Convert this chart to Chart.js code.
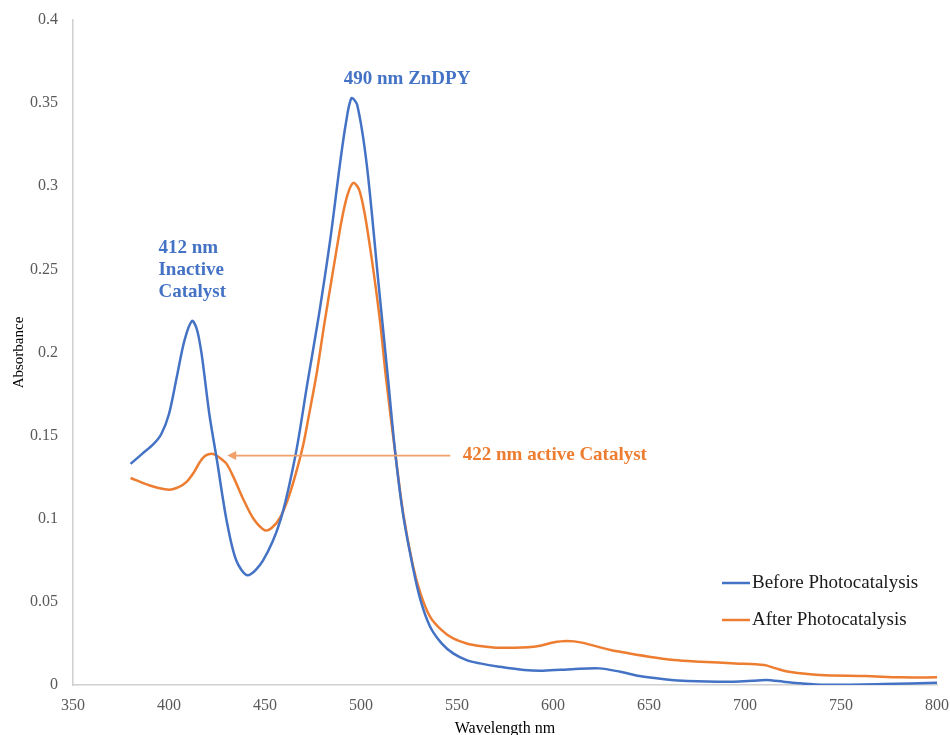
<!DOCTYPE html>
<html lang="en">
<head>
<meta charset="utf-8">
<style>
  html, body { margin: 0; padding: 0; background: #fff; }
  #wrap { width: 950px; height: 735px; }
</style>
</head>
<body>
<div id="wrap">
    <canvas id="myChart" width="950" height="735"></canvas>
</div>

<script src="https://cdn.jsdelivr.net/npm/chart.js"></script>
<script>
    // wavelength (nm) / absorbance
    const beforeWl = [380, 386, 392, 396, 400, 404, 408, 412, 414.5, 417, 421, 425, 430, 435, 441, 449, 458, 466, 472, 478, 484,
        489, 492, 495, 498, 503, 509, 514, 518, 522, 527, 531, 536, 542, 548, 555, 562, 572, 585, 595, 610,
        624, 635, 645, 658, 670, 694, 704, 711, 720, 729, 742, 772, 800];
    const beforeAbs = [0.133, 0.139, 0.145, 0.151, 0.163, 0.185, 0.207, 0.219, 0.214, 0.199, 0.163, 0.135, 0.099, 0.075, 0.066, 0.075, 0.099, 0.139, 0.181, 0.222, 0.268,
        0.313, 0.337, 0.353, 0.349, 0.313, 0.243, 0.185, 0.138, 0.102, 0.071, 0.051, 0.035, 0.025, 0.019, 0.015, 0.013, 0.011, 0.009, 0.0086, 0.0095,
        0.010, 0.008, 0.0054, 0.0035, 0.0024, 0.002, 0.0025, 0.003, 0.002, 0.001, 0.0002, 0.0006, 0.0014];

    const afterWl = [380, 390, 400, 405, 409, 413, 416, 419, 423, 426, 430, 434, 439, 444, 450, 454, 458, 462, 466, 470,
        473, 477, 481, 486, 490, 493, 496, 499, 502, 506, 510, 513, 518, 522, 527, 531, 536, 542, 548, 555,
        562, 572, 590, 600, 607, 615, 630, 650, 663, 677, 695, 710, 716, 723, 739, 763, 781, 800];
    const afterAbs = [0.1245, 0.120, 0.1175, 0.119, 0.122, 0.128, 0.134, 0.138, 0.139, 0.137, 0.133, 0.124, 0.111, 0.100, 0.093, 0.095, 0.101, 0.112, 0.127, 0.145,
        0.163, 0.188, 0.218, 0.253, 0.280, 0.295, 0.302, 0.298, 0.283, 0.253, 0.218, 0.185, 0.138, 0.103, 0.072, 0.055, 0.041, 0.033, 0.028, 0.025,
        0.0235, 0.0224, 0.023, 0.0255, 0.0264, 0.0255, 0.021, 0.017, 0.015, 0.014, 0.013, 0.012, 0.010, 0.008, 0.006, 0.0054, 0.0046, 0.0046];

    const seriesNames = ['Before Photocatalysis', 'After Photocatalysis'];
    const xTicks = [350, 400, 450, 500, 550, 600, 650, 700, 750, 800];
    const yTicks = [0, 0.05, 0.1, 0.15, 0.2, 0.25, 0.3, 0.35, 0.4];

    const BLUE = '#4472C4';
    const ORANGE = '#ED7D31';
    const SERIF = '"Liberation Serif", "Times New Roman", serif';

    const toPoints = (xs, ys) => xs.map((x, i) => ({x: x, y: ys[i]}));

    // peak labels, arrow and the in-plot legend
    const notes = {
        id: 'notes',
        afterDatasetsDraw(chart) {
            const c = chart.ctx;
            const sx = chart.scales.x, sy = chart.scales.y;
            c.save();
            c.textBaseline = 'middle';

            c.fillStyle = BLUE;
            c.font = 'bold 19px ' + SERIF;
            c.textAlign = 'center';
            c.fillText('490 nm ZnDPY', sx.getPixelForValue(524), sy.getPixelForValue(0.3646));
            c.textAlign = 'left';
            ['412 nm', 'Inactive', 'Catalyst'].forEach((t, i) => {
                c.fillText(t, sx.getPixelForValue(394.5), sy.getPixelForValue(0.263) + i * 22);
            });

            // arrow pointing at the 422 nm shoulder
            const ay = sy.getPixelForValue(0.138);
            const x0 = sx.getPixelForValue(546.5), x1 = sx.getPixelForValue(430.3);
            c.strokeStyle = '#F2A06A';
            c.fillStyle = '#F2A06A';
            c.lineWidth = 1.6;
            c.beginPath();
            c.moveTo(x0, ay);
            c.lineTo(x1 + 6, ay);
            c.stroke();
            c.beginPath();
            c.moveTo(x1, ay);
            c.lineTo(x1 + 9, ay - 4.5);
            c.lineTo(x1 + 9, ay + 4.5);
            c.closePath();
            c.fill();

            c.fillStyle = ORANGE;
            c.font = 'bold 19px ' + SERIF;
            c.fillText('422 nm active Catalyst', sx.getPixelForValue(553), ay);

            // legend
            c.font = '19px ' + SERIF;
            chart.data.datasets.forEach((ds, i) => {
                const ly = 583 + i * 37;
                c.strokeStyle = ds.borderColor;
                c.lineWidth = 2.5;
                c.beginPath();
                c.moveTo(722, ly);
                c.lineTo(750, ly);
                c.stroke();
                c.fillStyle = '#1a1a1a';
                c.fillText(ds.label, 752, ly);
            });
            c.restore();
        }
    };

    const ctx = document.getElementById('myChart');

    new Chart(ctx, {
        type: 'line',
        data: {
            datasets: [{
                label: seriesNames[0],
                data: toPoints(beforeWl, beforeAbs),
                borderColor: BLUE,
                borderWidth: 2.5,
                pointRadius: 0,
                tension: 0.3
            }, {
                label: seriesNames[1],
                data: toPoints(afterWl, afterAbs),
                borderColor: ORANGE,
                borderWidth: 2.5,
                pointRadius: 0,
                tension: 0.3
            }]
        },
        options: {
            responsive: false,
            animation: false,
            layout: {padding: {top: 20, right: 13, left: 0, bottom: 0}},
            plugins: {
                legend: {display: false},
                tooltip: {enabled: false}
            },
            scales: {
                x: {
                    type: 'linear',
                    min: xTicks[0],
                    max: xTicks[xTicks.length - 1],
                    afterBuildTicks: s => { s.ticks = xTicks.map(v => ({value: v})); },
                    afterFit: s => { s.height = 50; s.paddingLeft = 0; s.paddingRight = 0; },
                    grid: {display: false, drawTicks: false},
                    border: {display: true, color: '#d0d0d0', width: 1.5},
                    ticks: {
                        color: '#595959',
                        font: {family: SERIF, size: 16},
                        padding: 11,
                        maxRotation: 0,
                        callback: v => String(v)
                    },
                    title: {
                        display: true,
                        text: 'Wavelength nm',
                        color: '#000',
                        font: {family: SERIF, size: 16},
                        padding: {top: 0, bottom: -3}
                    }
                },
                y: {
                    min: yTicks[0],
                    max: yTicks[yTicks.length - 1],
                    afterBuildTicks: s => { s.ticks = yTicks.map(v => ({value: v})); },
                    afterFit: s => { s.width = 73; s.paddingTop = 0; s.paddingBottom = 0; },
                    grid: {display: false, drawTicks: false},
                    border: {display: true, color: '#d0d0d0', width: 1.5},
                    ticks: {
                        color: '#595959',
                        font: {family: SERIF, size: 16},
                        padding: 15,
                        callback: v => String(+v.toFixed(2))
                    },
                    title: {
                        display: true,
                        text: 'Absorbance',
                        color: '#000',
                        font: {family: SERIF, size: 15},
                        padding: {top: 10, bottom: 0}
                    }
                }
            }
        },
        plugins: [notes]
    });
</script>
</body>
</html>
